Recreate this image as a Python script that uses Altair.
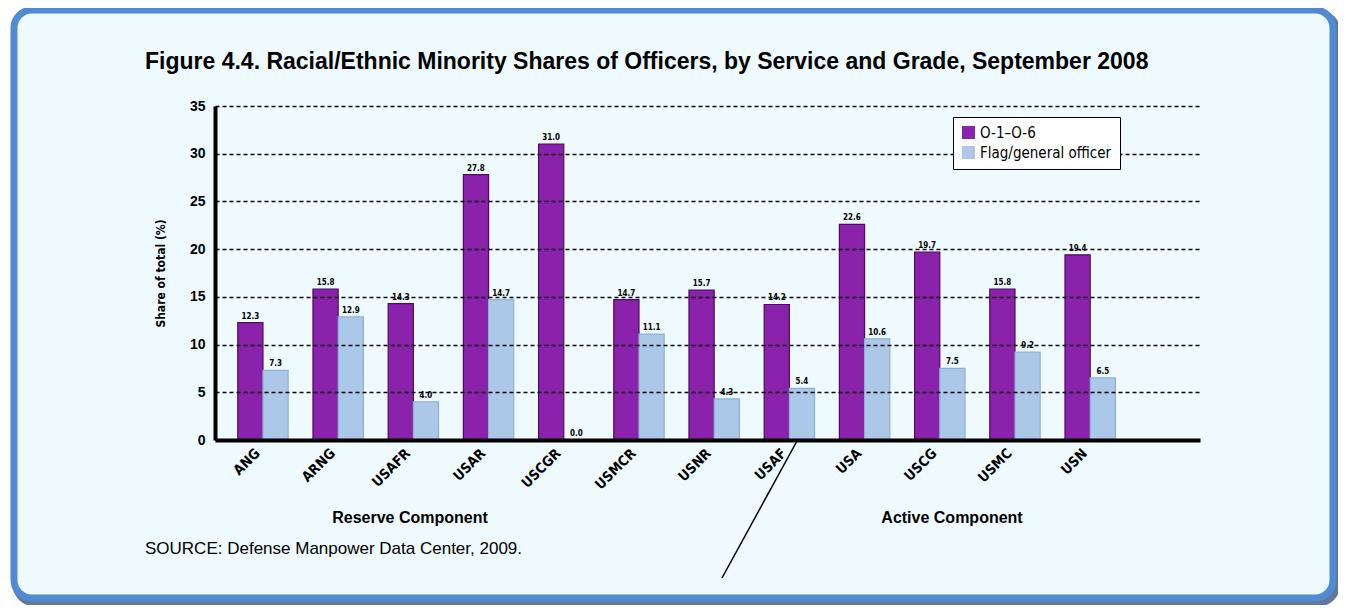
import altair as alt
import pandas as pd

services = ["ANG", "ARNG", "USAFR", "USAR", "USCGR", "USMCR", "USNR",
            "USAF", "USA", "USCG", "USMC", "USN"]
grades = ["O-1–O-6", "Flag/general officer"]
o1_o6 = [12.3, 15.8, 14.3, 27.8, 31.0, 14.7, 15.7, 14.2, 22.6, 19.7, 15.8, 19.4]
flag_general = [7.3, 12.9, 4.0, 14.7, 0.0, 11.1, 4.3, 5.4, 10.6, 7.5, 9.2, 6.5]
y_ticks = [0, 5, 10, 15, 20, 25, 30, 35]
title_text = "Figure 4.4. Racial/Ethnic Minority Shares of Officers, by Service and Grade, September 2008"
y_title = "Share of total (%)"
reserve_label = "Reserve Component"
active_label = "Active Component"
source_text = "SOURCE: Defense Manpower Data Center, 2009."

rows = []
for i, s in enumerate(services):
    rows.append({"service": s, "grade": grades[0], "value": o1_o6[i], "label": f"{o1_o6[i]:.1f}"})
    rows.append({"service": s, "grade": grades[1], "value": flag_general[i], "label": f"{flag_general[i]:.1f}"})
df = pd.DataFrame(rows)
dummy = pd.DataFrame({"k": [0]})

W, H = 985, 334
FONT = "Liberation Sans Narrow, DejaVu Sans Condensed, Arial Narrow, sans-serif"
FONT_B = "Liberation Sans, Arial, sans-serif"

xscale = alt.Scale(domain=services, paddingInner=0.33, paddingOuter=0.714, align=0.212)

base = alt.Chart(df).encode(
    x=alt.X("service:N", sort=services, scale=xscale,
            axis=alt.Axis(title=None, labelAngle=-45, labelFontSize=14, labelFontWeight="bold",
                          labelFont=FONT, labelColor="black", domainColor="black", domainWidth=4,
                          ticks=False, labelPadding=6, labelOffset=-10, grid=False, zindex=2)),
    xOffset=alt.XOffset("grade:N", sort=grades, scale=alt.Scale(domain=grades, paddingInner=0)),
    y=alt.Y("value:Q", scale=alt.Scale(domain=[0, 35], nice=False),
            axis=alt.Axis(title=y_title, values=y_ticks, labelFontSize=14, labelFontWeight="bold",
                          labelFont=FONT_B, labelColor="black", domainColor="black", domainWidth=4,
                          ticks=False, labelPadding=10, titleFontSize=12, titleFont=FONT,
                          titleFontWeight="bold", titleColor="black", titlePadding=22,
                          grid=True, gridColor="black", gridDash=[4, 3], gridWidth=1.5,
                          zindex=1)),
)

bars = base.mark_bar(strokeWidth=1.2).encode(
    color=alt.Color("grade:N", sort=grades,
                    scale=alt.Scale(domain=grades, range=["#8b22ab", "#abc8e8"]),
                    legend=alt.Legend(title=None, orient="none", legendX=738, legendY=11,
                                      fillColor="white", strokeColor="black", padding=8,
                                      labelFontSize=15, labelFont=FONT, labelColor="black",
                                      symbolType="square", symbolSize=170, symbolStrokeWidth=0,
                                      rowPadding=4, zindex=3)),
    stroke=alt.Stroke("grade:N", sort=grades,
                      scale=alt.Scale(domain=grades, range=["#4b0b63", "#8fb0d6"]), legend=None),
)

labels = base.mark_text(dy=-6, fontSize=8, fontWeight="bold", font=FONT, color="black").encode(
    text="label:N"
)

frame_shadow = alt.Chart(dummy).mark_rect(
    cornerRadius=18, fillOpacity=0, stroke="#1e3e6e", strokeWidth=9, strokeOpacity=0.7
).encode(x=alt.value(-198), x2=alt.value(1121), y=alt.value(-92), y2=alt.value(496))

frame = alt.Chart(dummy).mark_rect(
    cornerRadius=18, fill="#eefafd", stroke="#4f8ad2", strokeWidth=7
).encode(x=alt.value(-201), x2=alt.value(1118), y=alt.value(-96), y2=alt.value(492))

title = alt.Chart(dummy).mark_text(
    text=title_text, align="left", baseline="alphabetic", fontSize=23, fontWeight="bold",
    font=FONT_B, color="black"
).encode(x=alt.value(-70), y=alt.value(-37))

reserve = alt.Chart(dummy).mark_text(
    text=reserve_label, align="center", baseline="alphabetic", fontSize=16, fontWeight="bold",
    font=FONT_B, color="black"
).encode(x=alt.value(195), y=alt.value(417))

active = alt.Chart(dummy).mark_text(
    text=active_label, align="center", baseline="alphabetic", fontSize=16, fontWeight="bold",
    font=FONT_B, color="black"
).encode(x=alt.value(737), y=alt.value(417))

source = alt.Chart(dummy).mark_text(
    text=source_text, align="left", baseline="alphabetic", fontSize=17,
    font=FONT_B, color="black"
).encode(x=alt.value(-70), y=alt.value(448))

divider = alt.Chart(dummy).mark_rule(color="black", strokeWidth=1.5).encode(
    x=alt.value(582), y=alt.value(335), x2=alt.value(507), y2=alt.value(472)
)

chart = alt.layer(
    frame_shadow, frame, bars, labels, title, reserve, active, source, divider
).properties(
    width=W, height=H,
    autosize=alt.AutoSizeParams(type="none"),
    padding={"left": 207, "top": 98, "right": 138, "bottom": 165},
    background="white",
).configure_view(stroke=None)

chart.save("out.html", embed_options={"renderer": "svg", "actions": False})
